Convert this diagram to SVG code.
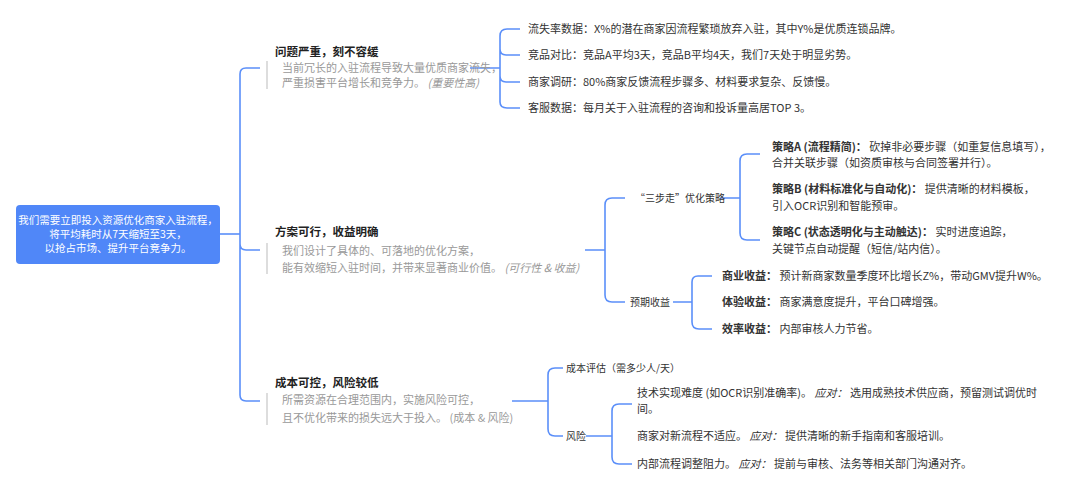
<svg xmlns="http://www.w3.org/2000/svg" width="1080" height="491" viewBox="0 0 1080 491">
<style>
text{font-family:"Noto Sans CJK SC","Noto Sans",sans-serif;font-size:11px;fill:#333}
.h{font-weight:bold;font-size:11.5px;fill:#222}
.d{fill:#999}
.i{font-style:italic}
.b{font-weight:bold}
.c{fill:none;stroke:#5b8ff9;stroke-width:1.6}
.bar{stroke:#bbb;stroke-width:1}
</style>
<rect width="1080" height="491" fill="#fff"/>
<g id="connectors">
<path class="c" d="M220 234H240"/>
<path class="c" d="M240 234V74Q240 68 246 68H260M240 234V244Q240 250 246 250H260M240 234V395Q240 401 246 401H260"/>
<path class="c" d="M470 68H500M500 68V36Q500 29 507 29H520M500 68V49Q500 55 506 55H520M500 68V76Q500 82 506 82H520M500 68V102Q500 108 507 108H520"/>
<path class="c" d="M585 250H605M605 250V205Q605 198 612 198H625M605 250V295Q605 302 612 302H625"/>
<path class="c" d="M720 198H740M740 198V161Q740 154 747 154H760M740 198V233Q740 240 747 240H760"/>
<path class="c" d="M673 302H692M692 302V282Q692 276 698 276H712M692 302V322Q692 329 699 329H712"/>
<path class="c" d="M512 401H548M548 401V375Q548 368 555 368H563M548 401V429Q548 436 555 436H563"/>
<path class="c" d="M586 436H612M612 436V411Q612 404 619 404H632M612 436V457Q612 464 619 464H632"/>
</g>
<g id="root">
<rect x="16" y="205" width="204" height="59" rx="4" fill="#5087f8"/>
<text x="118" y="224" text-anchor="middle" style="fill:#fff;font-size:10.5px">我们需要立即投入资源优化商家入驻流程，</text>
<text x="118" y="238" text-anchor="middle" style="fill:#fff;font-size:10.5px">将平均耗时从7天缩短至3天，</text>
<text x="118" y="252" text-anchor="middle" style="fill:#fff;font-size:10.5px">以抢占市场、提升平台竞争力。</text>
</g>
<g id="b1">
<text class="h" x="275" y="56">问题严重，刻不容缓</text>
<line class="bar" x1="267" y1="61" x2="267" y2="89"/>
<text class="d" x="282" y="72">当前冗长的入驻流程导致大量优质商家流失，</text>
<text class="d" x="282" y="87">严重损害平台增长和竞争力。 <tspan class="i">(重要性高)</tspan></text>
</g>
<g id="b1c">
<text x="528" y="33">流失率数据：X%的潜在商家因流程繁琐放弃入驻，其中Y%是优质连锁品牌。</text>
<text x="528" y="59">竞品对比：竞品A平均3天，竞品B平均4天，我们7天处于明显劣势。</text>
<text x="528" y="86">商家调研：80%商家反馈流程步骤多、材料要求复杂、反馈慢。</text>
<text x="528" y="112">客服数据：每月关于入驻流程的咨询和投诉量高居TOP 3。</text>
</g>
<g id="b2">
<text class="h" x="275" y="236">方案可行，收益明确</text>
<line class="bar" x1="267" y1="243" x2="267" y2="274"/>
<text class="d" x="282" y="255">我们设计了具体的、可落地的优化方案，</text>
<text class="d" x="282" y="272">能有效缩短入驻时间，并带来显著商业价值。 <tspan class="i">(可行性 &amp; 收益)</tspan></text>
</g>
<g id="b2a"><text x="635" y="202" style="font-size:10px">“三步走”优化策略</text></g>
<g id="b2b"><text x="630" y="306" style="font-size:10px">预期收益</text></g>
<g id="s">
<text x="772" y="151"><tspan class="b">策略A (流程精简)：</tspan> 砍掉非必要步骤（如重复信息填写），</text>
<text x="772" y="167">合并关联步骤（如资质审核与合同签署并行）。</text>
<text x="772" y="193"><tspan class="b">策略B (材料标准化与自动化)：</tspan> 提供清晰的材料模板，</text>
<text x="772" y="210">引入OCR识别和智能预审。</text>
<text x="772" y="236"><tspan class="b">策略C (状态透明化与主动触达)：</tspan> 实时进度追踪，</text>
<text x="772" y="253">关键节点自动提醒（短信/站内信）。</text>
</g>
<g id="r">
<text x="722" y="280"><tspan class="b">商业收益：</tspan> 预计新商家数量季度环比增长Z%，带动GMV提升W%。</text>
<text x="722" y="306"><tspan class="b">体验收益：</tspan> 商家满意度提升，平台口碑增强。</text>
<text x="722" y="333"><tspan class="b">效率收益：</tspan> 内部审核人力节省。</text>
</g>
<g id="b3">
<text class="h" x="275" y="387">成本可控，风险较低</text>
<line class="bar" x1="267" y1="393" x2="267" y2="425"/>
<text class="d" x="282" y="404">所需资源在合理范围内，实施风险可控，</text>
<text class="d" x="282" y="422">且不优化带来的损失远大于投入。 (成本 &amp; 风险)</text>
</g>
<g id="b3a"><text x="566" y="372" style="font-size:10px">成本评估（需多少人/天）</text></g>
<g id="b3b"><text x="566" y="440" style="font-size:10px">风险</text></g>
<g id="risk">
<text x="637" y="397">技术实现难度 (如OCR识别准确率)。 <tspan class="i">应对：</tspan> 选用成熟技术供应商，预留测试调优时</text>
<text x="637" y="413">间。</text>
<text x="637" y="440">商家对新流程不适应。 <tspan class="i">应对：</tspan> 提供清晰的新手指南和客服培训。</text>
<text x="637" y="468">内部流程调整阻力。 <tspan class="i">应对：</tspan> 提前与审核、法务等相关部门沟通对齐。</text>
</g>
</svg>
